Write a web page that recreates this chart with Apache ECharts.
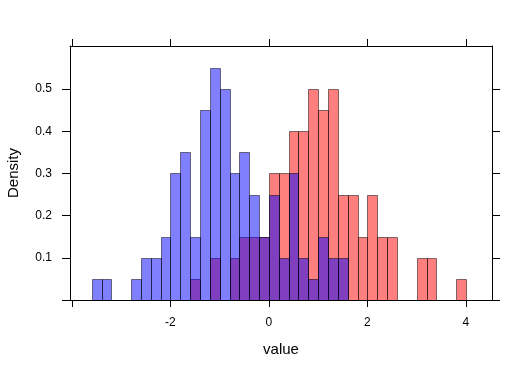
<!DOCTYPE html>
<html>
<head>
<meta charset="utf-8">
<script src="https://cdn.jsdelivr.net/npm/echarts@6/dist/echarts.min.js"></script>
<style>
html,body{margin:0;padding:0;background:#fff;}
#chart{width:530px;height:371px;}
</style>
</head>
<body>
<div id="chart"></div>
<script>
// Histogram bins (left edges), width 0.2
const binStarts = [-3.6,-3.4,-3.2,-3.0,-2.8,-2.6,-2.4,-2.2,-2.0,-1.8,-1.6,-1.4,-1.2,-1.0,-0.8,-0.6,-0.4,-0.2,
  0,0.2,0.4,0.6,0.8,1.0,1.2,1.4,1.6,1.8,2.0,2.2,2.4,2.6,2.8,3.0,3.2,3.4,3.6,3.8];
const binWidth = 0.2;
// Density per bin, blue group
const blueDensity = [0.05,0.05,0,0,0.05,0.1,0.1,0.15,0.3,0.35,0.15,0.45,0.55,0.5,0.3,0.35,0.25,0.15,
  0.25,0.1,0.3,0.1,0.05,0.15,0.1,0.1,0,0,0,0,0,0,0,0,0,0,0,0];
// Density per bin, red group
const redDensity = [0,0,0,0,0,0,0,0,0,0,0.05,0,0.1,0,0.1,0.15,0.15,0.15,
  0.3,0.3,0.4,0.4,0.5,0.45,0.5,0.25,0.25,0.15,0.25,0.15,0.15,0,0,0.1,0.1,0,0,0.05];
// Axis ticks and labels
const xTicks = [-4,-2,0,2,4];
const xLabels = [-2,0,2,4];
const yTicks = [0,0.1,0.2,0.3,0.4,0.5];
const yLabels = [0.1,0.2,0.3,0.4,0.5];

const chart = echarts.init(document.getElementById('chart'), null, {renderer:'canvas'});

function toData(vals){
  return binStarts.map((s,i)=>[s, s+binWidth, vals[i]]);
}
function makeRender(fill){
  return function(params, api){
    const h = api.value(2);
    if (!h) return null;
    const p0 = api.coord([api.value(0), h]);
    const p1 = api.coord([api.value(1), 0]);
    const x0 = Math.round(p0[0]) + 0.5, x1 = Math.round(p1[0]) + 0.5;
    const y0 = Math.round(p0[1]) + 0.5, y1 = Math.round(p1[1]) + 0.5;
    return {
      type:'rect',
      shape:{x:x0, y:y0, width:x1-x0, height:y1-y0},
      style:{fill:fill, stroke:'rgba(0,0,0,0.5)', lineWidth:1}
    };
  };
}
const font = 'Liberation Sans';
const xMin = -4.04, xMax = 4.53, yMax = 0.602;
const baseX = {
  type:'value', min:xMin, max:xMax,
  axisLine:{show:true, onZero:false, lineStyle:{color:'#000', width:1}},
  axisTick:{show:true, inside:false, length:7, customValues:xTicks, lineStyle:{color:'#000', width:1}},
  splitLine:{show:false}
};
const baseY = {
  type:'value', min:0, max:yMax,
  axisLine:{show:true, onZero:false, lineStyle:{color:'#000', width:1}},
  axisTick:{show:true, inside:false, length:8, customValues:yTicks, lineStyle:{color:'#000', width:1}},
  splitLine:{show:false}
};
chart.setOption({
  animation:false,
  backgroundColor:'#fff',
  grid:{left:70, right:38, top:46, bottom:71, containLabel:false, outerBoundsMode:'none'},
  xAxis:[
    Object.assign({}, baseX, {position:'bottom', name:'value', nameLocation:'middle', nameGap:42,
      nameTextStyle:{fontFamily:font, fontSize:15, color:'#000'},
      axisLabel:{show:true, customValues:xLabels, margin:17, fontFamily:font, fontSize:12, color:'#000'}}),
    Object.assign({}, baseX, {position:'top', axisLabel:{show:false}})
  ],
  yAxis:[
    Object.assign({}, baseY, {position:'left', name:'Density', nameLocation:'middle', nameGap:49,
      nameTextStyle:{fontFamily:font, fontSize:15, color:'#000'},
      axisLabel:{show:true, customValues:yLabels, margin:18, fontFamily:font, fontSize:12, color:'#000',
        formatter:(v)=>String(v)}}),
    Object.assign({}, baseY, {position:'right', axisLabel:{show:false}})
  ],
  series:[
    {type:'custom', name:'red', xAxisIndex:0, yAxisIndex:0, data:toData(redDensity),
      encode:{x:[0,1], y:2}, renderItem:makeRender('rgba(255,0,0,0.5)'), clip:true},
    {type:'custom', name:'blue', xAxisIndex:0, yAxisIndex:0, data:toData(blueDensity),
      encode:{x:[0,1], y:2}, renderItem:makeRender('rgba(0,0,255,0.5)'), clip:true}
  ]
});
</script>
</body>
</html>
